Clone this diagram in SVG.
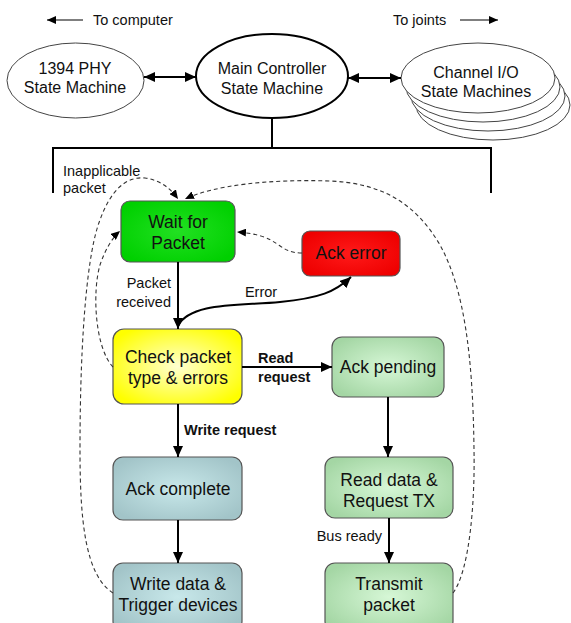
<svg xmlns="http://www.w3.org/2000/svg" width="571" height="623" viewBox="0 0 571 623">
<style>
  .ell { fill: #fff; stroke: #444; stroke-width: 1; }
  .ellb { fill: #fff; stroke: #000; stroke-width: 2; }
  .box { stroke: #555; stroke-width: 1.2; }
  .t { font-family: "Liberation Sans", Arial, sans-serif; font-size: 16px; fill: #111; text-anchor: middle; }
  .bt { font-family: "Liberation Sans", Arial, sans-serif; font-size: 17.5px; fill: #111; text-anchor: middle; }
  .lbl { font-family: "Liberation Sans", Arial, sans-serif; font-size: 14.5px; fill: #111; }
  .lblb { font-family: "Liberation Sans", Arial, sans-serif; font-size: 14.5px; font-weight: bold; fill: #111; }
  .solid { fill: none; stroke: #000; stroke-width: 2; }
  .thin { fill: none; stroke: #000; stroke-width: 1.2; }
  .dash { fill: none; stroke: #333; stroke-width: 1.1; stroke-dasharray: 4 3; }
</style>
<defs>
  <marker id="ah" markerUnits="userSpaceOnUse" markerWidth="12" markerHeight="10" refX="11" refY="5" orient="auto-start-reverse">
    <path d="M0,0 L11,5 L0,10 z" fill="#000"/>
  </marker>
  <marker id="ahs" markerUnits="userSpaceOnUse" markerWidth="10" markerHeight="8" refX="9" refY="4" orient="auto-start-reverse">
    <path d="M0,0 L9,4 L0,8 z" fill="#000"/>
  </marker>
  <radialGradient id="gGreen" cx="50%" cy="50%" r="60%">
    <stop offset="0" stop-color="#22e022"/>
    <stop offset="1" stop-color="#00d000"/>
  </radialGradient>
  <radialGradient id="gRed" cx="50%" cy="50%" r="60%">
    <stop offset="0" stop-color="#ff1a1a"/>
    <stop offset="1" stop-color="#ee0000"/>
  </radialGradient>
  <radialGradient id="gYellow" cx="50%" cy="50%" r="60%">
    <stop offset="0" stop-color="#ffffd0"/>
    <stop offset="1" stop-color="#ffff00"/>
  </radialGradient>
  <radialGradient id="gLGreen" cx="50%" cy="50%" r="60%">
    <stop offset="0" stop-color="#d6f7d6"/>
    <stop offset="1" stop-color="#a4d6a4"/>
  </radialGradient>
  <radialGradient id="gBlue" cx="50%" cy="50%" r="60%">
    <stop offset="0" stop-color="#c8e8ea"/>
    <stop offset="1" stop-color="#a2c4c8"/>
  </radialGradient>
</defs>

<!-- top labels -->
<g id="to-computer">
  <line x1="83" y1="20" x2="47" y2="20" class="thin" marker-end="url(#ahs)"/>
  <text x="93" y="25" class="lbl">To computer</text>
</g>
<g id="to-joints">
  <text x="393" y="25" class="lbl">To joints</text>
  <line x1="460" y1="20" x2="498" y2="20" class="thin" marker-end="url(#ahs)"/>
</g>

<!-- ellipses -->
<g id="phy">
  <ellipse cx="75.5" cy="80.5" rx="68.5" ry="37.5" class="ell"/>
  <text x="75" y="74" class="t">1394 PHY</text>
  <text x="75" y="93" class="t">State Machine</text>
</g>
<g id="main">
  <ellipse cx="272" cy="76" rx="76" ry="42" class="ellb"/>
  <text x="272" y="74" class="t">Main Controller</text>
  <text x="272" y="94" class="t">State Machine</text>
</g>
<g id="channel">
  <ellipse cx="493" cy="105" rx="77" ry="35" class="ell"/>
  <ellipse cx="488" cy="96" rx="77" ry="35" class="ell"/>
  <ellipse cx="483" cy="87" rx="77" ry="35" class="ell"/>
  <ellipse cx="478" cy="78" rx="77" ry="35" class="ell"/>
  <text x="476" y="78" class="t">Channel I/O</text>
  <text x="476" y="97" class="t">State Machines</text>
</g>

<!-- state boxes -->
<g id="wait">
  <rect x="121" y="201" width="114" height="61" rx="9" fill="url(#gGreen)" class="box"/>
  <text x="178" y="228" class="bt">Wait for</text>
  <text x="178" y="249" class="bt">Packet</text>
</g>
<g id="ackerror">
  <rect x="302" y="231" width="98" height="45" rx="8" fill="url(#gRed)" class="box"/>
  <text x="351" y="259" class="bt">Ack error</text>
</g>
<g id="check">
  <rect x="113" y="329" width="129" height="75" rx="11" fill="url(#gYellow)" class="box"/>
  <text x="178" y="363" class="bt">Check packet</text>
  <text x="178" y="384" class="bt">type &amp; errors</text>
</g>
<g id="ackpending">
  <rect x="332" y="337" width="112" height="60" rx="10" fill="url(#gLGreen)" class="box"/>
  <text x="388" y="373" class="bt">Ack pending</text>
</g>
<g id="ackcomplete">
  <rect x="113" y="457" width="129" height="63" rx="10" fill="url(#gBlue)" class="box"/>
  <text x="178" y="495" class="bt">Ack complete</text>
</g>
<g id="readdata">
  <rect x="325" y="457" width="128" height="61" rx="10" fill="url(#gLGreen)" class="box"/>
  <text x="389" y="486" class="bt">Read data &amp;</text>
  <text x="389" y="507" class="bt">Request TX</text>
</g>
<g id="writedata">
  <rect x="113" y="563" width="129" height="68" rx="10" fill="url(#gBlue)" class="box"/>
  <text x="178" y="590" class="bt">Write data &amp;</text>
  <text x="178" y="611" class="bt">Trigger devices</text>
</g>
<g id="transmit">
  <rect x="325" y="563" width="128" height="68" rx="10" fill="url(#gLGreen)" class="box"/>
  <text x="389" y="590" class="bt">Transmit</text>
  <text x="389" y="611" class="bt">packet</text>
</g>

<!-- connectors -->
<g id="connectors">
  <line x1="144" y1="77" x2="196" y2="77" class="solid" marker-start="url(#ah)" marker-end="url(#ah)"/>
  <line x1="348" y1="78" x2="401" y2="78" class="solid" marker-start="url(#ah)" marker-end="url(#ah)"/>
  <path d="M272,118 L272,148 M53,148 L491,148 M53,147 L53,193 M491,147 L491,193" class="solid"/>

  <line x1="178" y1="262" x2="178" y2="329" class="solid" marker-end="url(#ah)"/>
  <path d="M178,326 C190,302 240,306 280,302 C320,298 335,292 351,277" class="solid" marker-end="url(#ah)"/>
  <path d="M302,253 C276,253 282,235 237,232" class="dash" marker-end="url(#ahs)"/>
  <line x1="242" y1="367" x2="332" y2="367" class="solid" marker-end="url(#ah)"/>
  <line x1="178" y1="404" x2="178" y2="457" class="solid" marker-end="url(#ah)"/>
  <line x1="388" y1="397" x2="388" y2="457" class="solid" marker-end="url(#ah)"/>
  <line x1="178" y1="520" x2="178" y2="563" class="solid" marker-end="url(#ah)"/>
  <line x1="389" y1="518" x2="389" y2="563" class="solid" marker-end="url(#ah)"/>

  <path d="M113,367 C95,348 92,292 100,265 C105,250 112,238 120,231" class="dash" marker-end="url(#ahs)"/>
  <path d="M113,593 C85,575 80,520 80,450 C80,330 88,250 100,220 C110,192 125,176 145,178 C160,180 170,188 178,199" class="dash" marker-end="url(#ahs)"/>
  <path d="M453,593 C470,570 475,500 474,450 C473,360 465,290 440,245 C415,202 380,183 330,181 C270,179 215,185 185,199" class="dash" marker-end="url(#ahs)"/>

  <text x="63" y="176" class="lbl">Inapplicable</text>
  <text x="63" y="193" class="lbl">packet</text>
  <text x="171" y="288" class="lbl" text-anchor="end">Packet</text>
  <text x="171" y="307" class="lbl" text-anchor="end">received</text>
  <text x="261" y="297" class="lbl" text-anchor="middle">Error</text>
  <text x="258" y="363" class="lblb">Read</text>
  <text x="258" y="382" class="lblb">request</text>
  <text x="184" y="435" class="lblb">Write request</text>
  <text x="382" y="541" class="lbl" text-anchor="end">Bus ready</text>
</g>
</svg>
